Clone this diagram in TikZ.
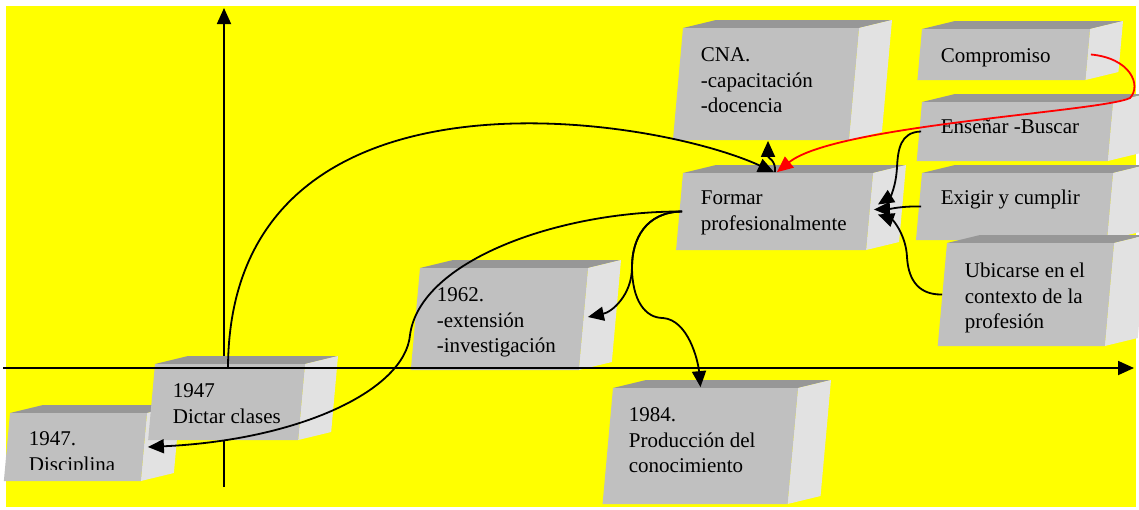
\documentclass[tikz,border=0pt]{standalone}
\usepackage{fontspec}
\setmainfont{Liberation Serif}
\usetikzlibrary{arrows.meta}
\definecolor{amarillo}{HTML}{FFFF00}
\definecolor{frente}{HTML}{C0C0C0}
\definecolor{techo}{HTML}{979797}
\definecolor{lado}{HTML}{E2E2E2}
\tikzset{cara techo/.style={fill=techo},
  cara lado/.style={fill=lado},
  cara frente/.style={fill=frente}}
%% box in relief: name, x, y, width, height
\newcommand{\caja}[5]{%
  \pgfmathsetmacro{\desl}{0.09*#5}
  \fill[cara techo] (#2,#3) -- ++(33,-8) -- ++(#4,0) -- (#2+#4,#3) -- cycle;
  \fill[cara lado] (#2+#4,#3) -- ++(33,-8) -- (#2+#4-\desl+33,#3+#5-8) -- (#2+#4-\desl,#3+#5) -- cycle;
  \fill[cara frente] (#2,#3) -- (#2+#4,#3) -- (#2+#4-\desl,#3+#5) -- (#2-\desl,#3+#5) -- cycle;
  \node[inner sep=0pt,minimum width=#4pt,minimum height=#5pt] (#1) at (#2+#4/2,#3+#5/2) {};}

\begin{document}
\begin{tikzpicture}
[x=1pt,y=-1pt,>={Triangle[length=16pt,width=14pt]},line width=1.8pt,
  txt/.style={anchor=north west,inner sep=0pt,align=left,font=\fontsize{21}{25.3}\selectfont}]
\clip (0,0) rectangle (1139,509);
\fill[white] (0,0) rectangle (1139,509);
\fill[amarillo] (6,6) rectangle (1136,507);
%% vertical axis
\coordinate (ybase) at (224,487);
\coordinate (ytope) at (224,8);
\draw[->] (ybase) -- (ytope);
%% boxes
\caja{disciplina}{10}{413}{137}{68}
\caja{dictar}{155}{364}{150}{76}
\caja{extension}{420}{268}{168}{102}
\caja{produccion}{613}{388}{185}{116}
\caja{cna}{683}{28}{176}{112}
\caja{formar}{683}{173}{190}{77}
\caja{compromiso}{922}{29}{168}{51}
\caja{ensenar}{922}{102}{191}{59}
\caja{exigir}{922}{173}{191}{67}
\caja{ubicarse}{947}{243}{167}{103}
%% texts
\begin{scope}
\clip (0,0) rectangle (300,469);
\node[txt] (tdisciplina) at (28,427.3) {\strut 1947.\\Disciplina};
\end{scope}
\node[txt] (tdictar) at (172,379.3) {\strut 1947\\Dictar clases};
\node[txt] (textension) at (436,283.3) {\strut 1962.\\-extensión\\-investigación};
\node[txt] (tproduccion) at (628,403.3) {\strut 1984.\\Producción del\\conocimiento};
\node[txt] (tcna) at (700,43.3) {\strut CNA.\\-capacitación\\-docencia};
\node[txt] (tformar) at (700,186.3) {\strut Formar\\profesionalmente};
\node[txt] (tcompromiso) at (940,44.3) {\strut Compromiso};
\node[txt] (tensenar) at (940,115.3) {\strut Enseñar -Buscar};
\node[txt] (texigir) at (940,186.3) {\strut Exigir y cumplir};
\node[txt] (tubicarse) at (964,259.3) {\strut Ubicarse en el\\contexto de la\\profesión};
%% horizontal axis
\coordinate (xbase) at (3,368);
\coordinate (xtope) at (1134,368);
\draw[->] (xbase) -- (xtope);
%% connectors
\coordinate (rama) at (632,267);
\draw[->] ([shift={(-2pt,-4pt)}]dictar.north) .. controls (230,50) and (650,115) .. ([xshift=-4pt]formar.north);
\draw[->,red] (compromiso.east) .. controls (1130,58) and (1142,85) .. (1130,98)
  .. controls (1100,112) and (835,125) .. ([xshift=-1pt]formar.north);
\draw[->] ([xshift=-3pt]formar.north) .. controls (776,160) and (768,158) .. ([xshift=-3pt]cna.south);
\draw[->] (formar.west) .. controls (560,211) and (420,260) .. (410,335)
  .. controls (405,390) and (300,440) .. (disciplina.east);
\draw[->] (formar.west) .. controls (645,212) and (632,240) .. (rama)
  .. controls (632,295) and (612,312) .. ([shift={(-1pt,2pt)}]extension.east);
\draw[->] (formar.west) .. controls (645,212) and (632,240) .. (rama)
  .. controls (632,300) and (645,318) .. (663,318)
  .. controls (688,320) and (698,360) .. ([xshift=-5pt]produccion.north);
\draw[->] (ensenar.west) .. controls (900,132) and (898,150) .. (897,167)
  .. controls (896,187) and (890,197) .. ([shift={(4pt,7pt)}]formar.east);
\draw[->] (exigir.west) .. controls (902,206) and (890,209) .. ([yshift=2pt]formar.east);
\draw[->] ([xshift=-4pt]ubicarse.west) .. controls (915,295) and (908,275) .. (907,257)
  .. controls (906,235) and (893,220) .. ([shift={(4pt,-3pt)}]formar.east);
\end{tikzpicture}
\end{document}
